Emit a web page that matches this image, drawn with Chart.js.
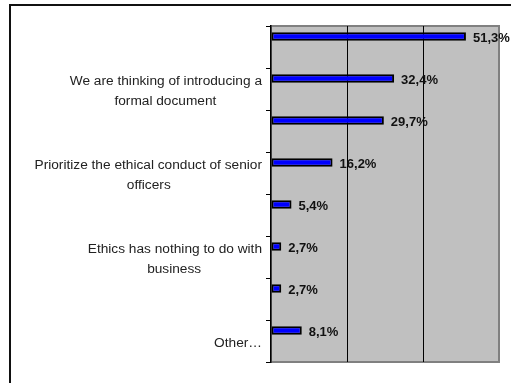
<!DOCTYPE html>
<html>
<head>
<meta charset="utf-8">
<script src="https://cdn.jsdelivr.net/npm/chart.js@4.4.1/dist/chart.umd.min.js"></script>
<style>
  html, body { margin: 0; padding: 0; background: #fff; overflow: hidden; }
  #wrap { position: relative; width: 511px; height: 383px; }
  #c { position: absolute; left: 0; top: 0; }
  #frame { position: absolute; left: 9px; top: 4px; width: 700px; height: 700px;
           border-left: 2px solid #111; border-top: 2px solid #111; pointer-events: none; }
</style>
</head>
<body>
<div id="wrap">
  <canvas id="c" width="511" height="383"></canvas>
  <div id="frame"></div>
</div>
<script>
const categories = [
  '',
  'We are thinking of introducing a formal document',
  '',
  'Prioritize the ethical conduct of senior officers',
  '',
  'Ethics has nothing to do with business',
  '',
  'Other…'
];
const categoryLines = [
  [''],
  ['We are thinking of introducing a', 'formal document'],
  [''],
  ['Prioritize the ethical conduct of senior', 'officers'],
  [''],
  ['Ethics has nothing to do with', 'business'],
  [''],
  ['Other…']
];
const values = [51.3, 32.4, 29.7, 16.2, 5.4, 2.7, 2.7, 8.1];
const spacer = [null, null, null, null, null, null, null, null];
const xTicks = [0, 20, 40, 60];

const LABEL_FONT = '13.7px "Liberation Sans", Arial, sans-serif';
const mctx = document.createElement('canvas').getContext('2d');
mctx.font = LABEL_FONT;
const spaceW = mctx.measureText(' ').width;
function centerLines(lines) {
  const widths = lines.map(l => mctx.measureText(l).width);
  const maxW = Math.max(...widths);
  return lines.map((l, i) => {
    const n = Math.round((maxW - widths[i]) / 2 / spaceW);
    return l + ' '.repeat(n);
  });
}

const plotBg = {
  id: 'plotBg',
  beforeDraw(chart) {
    const {ctx, chartArea: a} = chart;
    ctx.save();
    ctx.fillStyle = '#C0C0C0';
    ctx.fillRect(a.left, a.top, a.right - a.left, a.bottom - a.top);
    ctx.strokeStyle = '#808080';
    ctx.lineWidth = 2;
    ctx.strokeRect(a.left, a.top, a.right - a.left, a.bottom - a.top);
    ctx.restore();
  }
};

const valueLabels = {
  id: 'valueLabels',
  afterDatasetsDraw(chart) {
    const {ctx} = chart;
    const meta = chart.getDatasetMeta(0);
    ctx.save();
    ctx.font = 'bold 13px "Liberation Sans", Arial, sans-serif';
    ctx.fillStyle = '#111';
    ctx.textAlign = 'left';
    ctx.textBaseline = 'middle';
    meta.data.forEach((bar, i) => {
      const v = chart.data.datasets[0].data[i];
      const txt = v.toFixed(1).replace('.', ',') + '%';
      ctx.fillText(txt, bar.x + 7, bar.y + 2);
    });
    ctx.restore();
  }
};

new Chart(document.getElementById('c'), {
  type: 'bar',
  data: {
    labels: categories,
    datasets: [
      {
        data: values,
        backgroundColor: '#0000FF',
        borderColor: '#000',
        borderWidth: 2,
        borderSkipped: false,
        categoryPercentage: 1.0,
        barPercentage: 0.4
      },
      {
        data: spacer,
        backgroundColor: 'rgba(0,0,0,0)',
        borderWidth: 0,
        categoryPercentage: 1.0,
        barPercentage: 0.4
      }
    ]
  },
  options: {
    indexAxis: 'y',
    responsive: false,
    animation: false,
    devicePixelRatio: 1,
    layout: { padding: { top: 26, bottom: 21, right: 12, left: 0 } },
    plugins: { legend: { display: false }, tooltip: { enabled: false } },
    scales: {
      x: {
        min: 0, max: 60,
        afterBuildTicks(scale) { scale.ticks = xTicks.map(v => ({value: v})); },
        ticks: { display: false },
        grid: {
          drawTicks: false,
          color: c => (c.tick && (c.tick.value === 20 || c.tick.value === 40)) ? '#000' : 'rgba(0,0,0,0)',
          lineWidth: 1
        },
        border: { display: false }
      },
      y: {
        afterFit(scale) { scale.width = 271; },
        ticks: {
          autoSkip: false,
          padding: 4,
          labelOffset: 2.5,
          color: '#222',
          font: { family: '"Liberation Sans", Arial, sans-serif', size: 13.7, lineHeight: '20px' },
          callback: (val, i) => centerLines(categoryLines[i])
        },
        grid: {
          offset: true,
          drawOnChartArea: false,
          tickLength: 5,
          color: '#000',
          lineWidth: 1
        },
        border: { display: true, color: '#000', width: 1.5 }
      }
    }
  },
  plugins: [plotBg, valueLabels]
});
</script>
</body>
</html>
